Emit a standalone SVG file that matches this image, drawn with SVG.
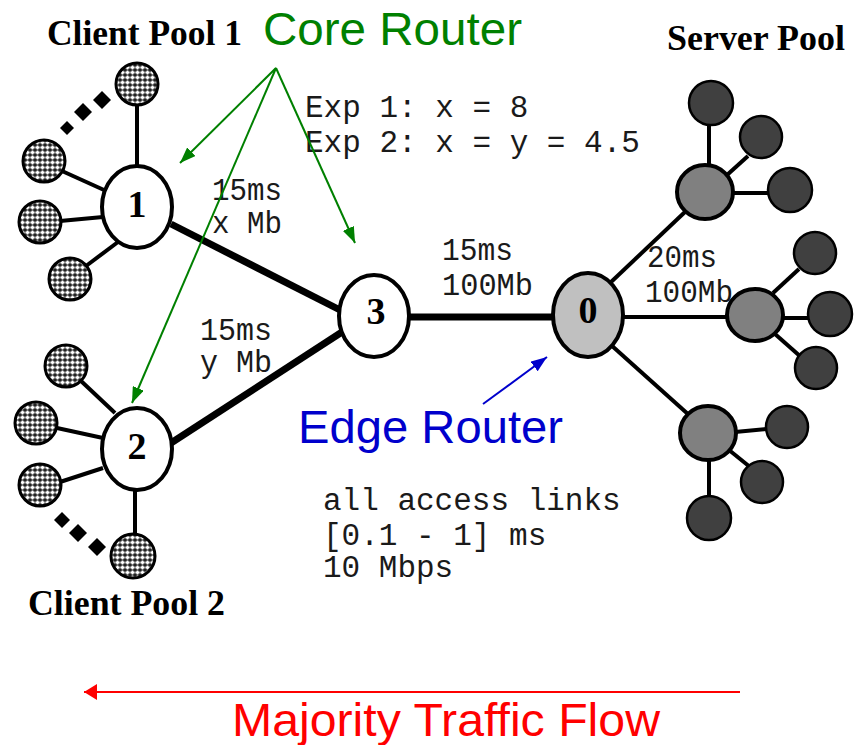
<svg xmlns="http://www.w3.org/2000/svg" width="857" height="745" viewBox="0 0 857 745">
<style>
.title{font-family:"Liberation Serif","Times New Roman",serif;font-weight:bold;font-size:36px;fill:#000}
.mono{font-family:"Liberation Mono","Courier New",monospace;font-size:31px;fill:#1a1a1a}
.lab{font-family:"Liberation Sans",Arial,sans-serif;font-size:47px}
.num{font-family:"Liberation Serif","Times New Roman",serif;font-weight:bold;font-size:38px;fill:#000;text-anchor:middle}
.core{fill:#fff;stroke:#000;stroke-width:4}
.edge{fill:#c0c0c0;stroke:#000;stroke-width:4}
.client{fill:url(#hatch);stroke:#000;stroke-width:3}
.mid{fill:#808080;stroke:#000;stroke-width:4}
.srv{fill:#404040;stroke:#000;stroke-width:2.5}
.trunk{stroke:#000;stroke-width:7;fill:none}
.acc{stroke:#000;stroke-width:4;fill:none}
.dot{fill:#000}
</style>
<defs>
<pattern id="hatch" width="5" height="5" patternUnits="userSpaceOnUse">
<rect width="5" height="5" fill="#222"/>
<path d="M0.4 2.5h4.2M2.5 0.4v4.2" stroke="#fff" stroke-width="1.8"/>
</pattern>
<marker id="ag" viewBox="0 0 16 12" refX="16" refY="6" markerWidth="16" markerHeight="12" markerUnits="userSpaceOnUse" orient="auto"><path d="M0 0L16 6L0 12z" fill="#008000"/></marker>
<marker id="ab" viewBox="0 0 16 12" refX="16" refY="6" markerWidth="16" markerHeight="12" markerUnits="userSpaceOnUse" orient="auto"><path d="M0 0L16 6L0 12z" fill="#0000cc"/></marker>
<marker id="ar" viewBox="0 0 13 16" refX="13" refY="8" markerWidth="13" markerHeight="16" markerUnits="userSpaceOnUse" orient="auto"><path d="M0 0L13 8L0 16z" fill="#ff0000"/></marker>
</defs>

<g id="connectors">
<line class="trunk" x1="171" y1="224" x2="342" y2="311"/>
<line class="trunk" x1="171" y1="443" x2="342" y2="332"/>
<line class="trunk" x1="406" y1="317" x2="556" y2="317"/>
<line class="acc" x1="137" y1="105" x2="137" y2="166"/>
<line class="acc" x1="62" y1="171" x2="104" y2="190"/>
<line class="acc" x1="60" y1="221" x2="103" y2="217"/>
<line class="acc" x1="86" y1="266" x2="118" y2="242"/>
<line class="acc" x1="80" y1="380" x2="115" y2="413"/>
<line class="acc" x1="57" y1="428" x2="103" y2="438"/>
<line class="acc" x1="60" y1="482" x2="103" y2="468"/>
<line class="acc" x1="135" y1="490" x2="135" y2="535"/>
<line class="acc" stroke-width="5" x1="610" y1="283" x2="686" y2="211"/>
<line class="acc" x1="622" y1="317" x2="728" y2="317"/>
<line class="acc" stroke-width="5" x1="611" y1="345" x2="689" y2="415"/>
<line class="acc" x1="709" y1="166" x2="709" y2="124"/>
<line class="acc" x1="727" y1="175" x2="748" y2="156"/>
<line class="acc" x1="732" y1="193" x2="768" y2="193"/>
<line class="acc" x1="773" y1="293" x2="799" y2="269"/>
<line class="acc" x1="782" y1="318" x2="809" y2="318"/>
<line class="acc" x1="775" y1="334" x2="801" y2="357"/>
<line class="acc" x1="735" y1="432" x2="766" y2="429"/>
<line class="acc" x1="729" y1="450" x2="750" y2="467"/>
<line class="acc" x1="709" y1="460" x2="709" y2="497"/>
</g>

<g id="client-pool-1">
<circle class="client" cx="137" cy="84" r="21"/>
<circle class="client" cx="44" cy="161" r="21"/>
<circle class="client" cx="40" cy="222" r="21"/>
<circle class="client" cx="70" cy="279" r="21"/>
<path class="dot" d="M67 121l7 7l-7 7l-7-7z"/>
<path class="dot" d="M83 103l9 9l-9 9l-9-9z"/>
<path class="dot" d="M102 91l9 9l-9 9l-9-9z"/>
</g>
<g id="client-pool-2">
<circle class="client" cx="66" cy="366" r="21"/>
<circle class="client" cx="36" cy="423" r="21"/>
<circle class="client" cx="40" cy="485" r="21"/>
<circle class="client" cx="133" cy="556" r="22"/>
<path class="dot" d="M62 512l8 8l-8 8l-8-8z"/>
<path class="dot" d="M78 524l9 9l-9 9l-9-9z"/>
<path class="dot" d="M97 538l9 9l-9 9l-9-9z"/>
</g>

<g id="node-1"><ellipse class="core" cx="137" cy="207" rx="35" ry="41"/><text class="num" x="137" y="217">1</text></g>
<g id="node-2"><ellipse class="core" cx="137" cy="449" rx="35" ry="41"/><text class="num" x="137" y="459">2</text></g>
<g id="node-3"><ellipse class="core" cx="374" cy="316" rx="35" ry="41"/><text class="num" x="376" y="324">3</text></g>
<g id="node-0"><ellipse class="edge" cx="588" cy="315" rx="35" ry="42"/><text class="num" x="588" y="323">0</text></g>

<g id="server-pool">
<circle class="srv" cx="711" cy="103" r="22"/>
<circle class="srv" cx="761" cy="137" r="21"/>
<circle class="srv" cx="790" cy="190" r="22"/>
<circle class="srv" cx="815" cy="253" r="21"/>
<circle class="srv" cx="830" cy="314" r="22"/>
<circle class="srv" cx="816" cy="368" r="21"/>
<circle class="srv" cx="787" cy="427" r="21"/>
<circle class="srv" cx="762" cy="482" r="21"/>
<circle class="srv" cx="709" cy="518" r="22"/>
<ellipse class="mid" cx="705" cy="192" rx="28" ry="27"/>
<ellipse class="mid" cx="755" cy="315" rx="28" ry="26"/>
<ellipse class="mid" cx="708" cy="433" rx="28" ry="27"/>
</g>

<g id="labels">
<text class="title" x="47" y="45" textLength="195" lengthAdjust="spacingAndGlyphs">Client Pool 1</text>
<text class="title" x="28" y="615" textLength="197" lengthAdjust="spacingAndGlyphs">Client Pool 2</text>
<text class="title" x="667" y="50" textLength="178" lengthAdjust="spacingAndGlyphs">Server Pool</text>
<text class="mono" x="305" y="117">Exp 1: x = 8</text>
<text class="mono" x="305" y="152">Exp 2: x = y = 4.5</text>
<text class="mono" x="212" y="200" textLength="70" lengthAdjust="spacingAndGlyphs">15ms</text>
<text class="mono" x="212" y="233" textLength="70" lengthAdjust="spacingAndGlyphs">x Mb</text>
<text class="mono" x="200" y="340" textLength="72" lengthAdjust="spacingAndGlyphs">15ms</text>
<text class="mono" x="200" y="372" textLength="72" lengthAdjust="spacingAndGlyphs">y Mb</text>
<text class="mono" x="442" y="260" textLength="71" lengthAdjust="spacingAndGlyphs">15ms</text>
<text class="mono" x="442" y="295" textLength="91" lengthAdjust="spacingAndGlyphs">100Mb</text>
<text class="mono" x="647" y="267" textLength="70" lengthAdjust="spacingAndGlyphs">20ms</text>
<text class="mono" x="645" y="302" textLength="88" lengthAdjust="spacingAndGlyphs">100Mb</text>
<text class="mono" x="323" y="510">all access links</text>
<text class="mono" x="323" y="545">[0.1 - 1] ms</text>
<text class="mono" x="323" y="577">10 Mbps</text>
</g>

<g id="annotations">
<text class="lab" x="263" y="45" fill="#008000" textLength="259" lengthAdjust="spacingAndGlyphs">Core Router</text>
<line x1="276" y1="68" x2="180" y2="163" stroke="#008000" stroke-width="2" marker-end="url(#ag)"/>
<line x1="276" y1="68" x2="132" y2="403" stroke="#008000" stroke-width="2" marker-end="url(#ag)"/>
<line x1="276" y1="68" x2="355" y2="243" stroke="#008000" stroke-width="2" marker-end="url(#ag)"/>
<text class="lab" x="298" y="443" fill="#0000cc" textLength="265" lengthAdjust="spacingAndGlyphs">Edge Router</text>
<line x1="483" y1="404" x2="547" y2="357" stroke="#0000cc" stroke-width="2" marker-end="url(#ab)"/>
<line x1="740" y1="692" x2="84" y2="692" stroke="#ff0000" stroke-width="2" marker-end="url(#ar)"/>
<text class="lab" x="232" y="736" fill="#ff0000" textLength="428" lengthAdjust="spacingAndGlyphs">Majority Traffic Flow</text>
</g>
</svg>
